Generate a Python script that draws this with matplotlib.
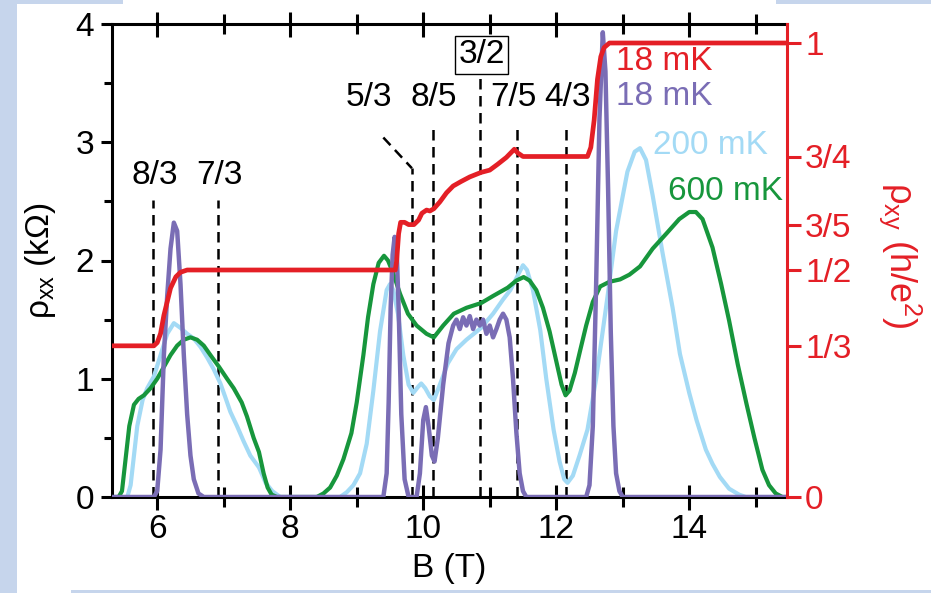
import matplotlib
matplotlib.use("Agg")
import matplotlib.pyplot as plt
from matplotlib.patches import Rectangle
from matplotlib.ticker import MultipleLocator

plt.rcParams['font.family'] = ['Liberation Sans', 'DejaVu Sans']
plt.rcParams['mathtext.default'] = 'regular'

# rho_xx at 18 mK (purple)
b_18 = [5.32, 5.95, 6.0, 6.05, 6.1, 6.15, 6.2, 6.25, 6.3, 6.35, 6.4, 6.45, 6.5, 6.55, 6.62, 6.7,
        9.4, 9.45, 9.48, 9.51, 9.54, 9.57, 9.6, 9.63, 9.67, 9.72, 9.78,
        9.9, 9.95, 10.0, 10.04, 10.08, 10.13, 10.17, 10.22, 10.3, 10.38, 10.45, 10.5, 10.55, 10.6,
        10.65, 10.7, 10.75, 10.8, 10.85, 10.9, 10.95, 11.0, 11.05, 11.1, 11.15, 11.2, 11.25, 11.3,
        11.35, 11.4, 11.45, 11.5, 11.55,
        12.45, 12.5, 12.55, 12.6, 12.65, 12.7, 12.74, 12.78, 12.82, 12.86, 12.9, 12.95, 13.0, 15.47]
rxx_18 = [0, 0, 0.05, 0.4, 1.2, 1.7, 2.1, 2.32, 2.25, 1.8, 1.2, 0.7, 0.35, 0.15, 0.03, 0,
          0, 0.2, 0.8, 1.6, 2.05, 2.2, 2.1, 1.6, 0.7, 0.15, 0,
          0, 0.2, 0.65, 0.76, 0.6, 0.35, 0.3, 0.5, 0.95, 1.3, 1.45, 1.5, 1.42, 1.52,
          1.45, 1.53, 1.42, 1.5, 1.45, 1.5, 1.38, 1.45, 1.35, 1.42, 1.5, 1.55, 1.5, 1.35,
          1.0, 0.55, 0.2, 0.05, 0,
          0, 0.1, 0.6, 1.8, 3.2, 3.93, 3.6, 2.6, 1.4, 0.6, 0.2, 0.05, 0, 0]

# rho_xx at 200 mK (light blue)
b_200 = [5.32, 5.55, 5.6, 5.65, 5.7, 5.78, 5.85, 5.95, 6.05, 6.15, 6.25, 6.35, 6.45, 6.55, 6.65,
         6.75, 6.85, 6.95, 7.02, 7.1, 7.2, 7.3, 7.4, 7.53, 7.63, 7.73, 7.85,
         8.75, 8.85, 8.95, 9.05, 9.15, 9.25, 9.35, 9.45, 9.5, 9.55, 9.62, 9.7, 9.78, 9.85, 9.92,
         9.97, 10.03, 10.1, 10.16, 10.25, 10.37, 10.5, 10.65, 10.87, 11.05, 11.2, 11.31, 11.4,
         11.5, 11.56, 11.65, 11.76, 11.85, 11.96, 12.05, 12.12, 12.17, 12.25, 12.35, 12.47, 12.6,
         12.77, 12.9, 13.07, 13.18, 13.26, 13.35, 13.45, 13.6, 13.75, 13.86, 14.0, 14.11, 14.25,
         14.35, 14.46, 14.6, 14.75, 14.85, 15.47]
rxx_200 = [0, 0, 0.1, 0.35, 0.6, 0.82, 0.92, 1.02, 1.2, 1.38, 1.47, 1.43, 1.38, 1.34, 1.27,
           1.18, 1.08, 0.96, 0.85, 0.72, 0.6, 0.47, 0.35, 0.25, 0.12, 0.05, 0,
           0, 0.04, 0.1, 0.2, 0.45, 0.9, 1.4, 1.75, 1.8, 1.75, 1.55, 1.2, 0.95, 0.88, 0.93,
           0.96, 0.92, 0.85, 0.82, 0.95, 1.13, 1.25, 1.33, 1.43, 1.55, 1.67, 1.75, 1.85,
           1.96, 1.92, 1.75, 1.41, 1.0, 0.57, 0.3, 0.15, 0.12, 0.18, 0.35, 0.57, 1.0,
           1.69, 2.25, 2.75, 2.92, 2.95, 2.85, 2.55, 2.06, 1.6, 1.21, 0.88, 0.65, 0.4,
           0.28, 0.17, 0.07, 0.02, 0, 0]

# rho_xx at 600 mK (green)
b_600 = [5.32, 5.42, 5.47, 5.52, 5.58, 5.65, 5.72, 5.8, 5.9, 6.0, 6.1, 6.2, 6.3, 6.4, 6.5, 6.6,
         6.7, 6.8, 6.93, 7.05, 7.15, 7.27, 7.35, 7.45, 7.53, 7.6, 7.66, 7.72, 7.8,
         8.4, 8.5, 8.6, 8.7, 8.8, 8.92, 9.0, 9.1, 9.17, 9.25, 9.33, 9.41, 9.47, 9.55, 9.65, 9.77,
         9.9, 10.05, 10.16, 10.3, 10.46, 10.65, 10.87, 11.05, 11.27, 11.4, 11.51, 11.6, 11.7,
         11.8, 11.9, 12.0, 12.08, 12.14, 12.2, 12.28, 12.36, 12.45, 12.55, 12.66, 12.8, 12.96,
         13.1, 13.26, 13.45, 13.66, 13.85, 14.0, 14.1, 14.2, 14.35, 14.48, 14.6, 14.73, 14.86,
         14.98, 15.1, 15.2, 15.3, 15.4, 15.47]
rxx_600 = [0, 0, 0.05, 0.3, 0.6, 0.78, 0.83, 0.86, 0.92, 1.0, 1.1, 1.2, 1.28, 1.33, 1.35, 1.33,
           1.28, 1.2, 1.1, 1.0, 0.92, 0.8, 0.68, 0.5, 0.38, 0.2, 0.08, 0.02, 0,
           0, 0.03, 0.08, 0.18, 0.32, 0.54, 0.8, 1.2, 1.52, 1.8, 1.98, 2.04, 2.0, 1.89, 1.72, 1.55,
           1.45, 1.38, 1.35, 1.45, 1.55, 1.6, 1.64, 1.7, 1.77, 1.83, 1.86, 1.83, 1.75,
           1.6, 1.4, 1.15, 0.95, 0.86, 0.9, 1.05, 1.24, 1.45, 1.65, 1.78, 1.82, 1.84,
           1.88, 1.95, 2.1, 2.23, 2.35, 2.41, 2.41, 2.35, 2.11, 1.8, 1.49, 1.12, 0.79,
           0.5, 0.23, 0.1, 0.03, 0, 0]

# rho_xy at 18 mK (red, right axis, h/e^2)
b_xy = [5.32, 5.95, 6.0, 6.05, 6.1, 6.15, 6.2, 6.28, 6.35, 6.45, 9.58, 9.6, 9.63, 9.66, 9.72,
        9.78, 9.86, 9.93, 9.98, 10.05, 10.1, 10.16, 10.25, 10.35, 10.45, 10.57, 10.7, 10.87,
        11.0, 11.12, 11.25, 11.33, 11.37, 11.42, 11.5, 12.47, 12.52, 12.57, 12.62, 12.67,
        12.72, 12.8, 15.47]
rxy = [0.333, 0.333, 0.34, 0.36, 0.4, 0.43, 0.46, 0.485, 0.495, 0.5, 0.5, 0.52, 0.58, 0.605,
       0.605, 0.6, 0.6, 0.61, 0.625, 0.632, 0.63, 0.635, 0.65, 0.67, 0.685, 0.695, 0.705, 0.715,
       0.72, 0.733, 0.748, 0.76, 0.766, 0.758, 0.75, 0.75, 0.77, 0.83, 0.92, 0.97,
       0.99, 1.0, 1.0]

# filling factors marked by dashed lines
nu_labels = ['8/3', '7/3', '5/3', '8/5', '3/2', '7/5', '4/3']
nu_pos = [5.94, 6.92, 9.83, 10.15, 10.86, 11.41, 12.14]
nu_top = [2.51, 2.51, 2.78, 3.15, 3.59, 3.15, 3.15]

rxy_ticks = [0, 1/3, 1/2, 3/5, 3/4, 1]
rxy_ticklabels = ['0', '1/3', '1/2', '3/5', '3/4', '1']

RED = '#e41f26'
PURPLE = '#7a6db5'
LBLUE = '#a3daf5'
GREEN = '#17963c'


def main():
    fig = plt.figure(figsize=(9.31, 5.93), dpi=100)
    fig.patch.set_facecolor('white')

    # slide background strips
    bg = '#c6d5ec'
    W, H = 931.0, 593.0
    for x0, y0, w, h in [(0, 0, 17, 593), (0, 589, 123, 4), (776, 589, 155, 4), (71, 0, 860, 3)]:
        fig.patches.append(Rectangle((x0 / W, y0 / H), w / W, h / H, transform=fig.transFigure,
                                     facecolor=bg, edgecolor='none', zorder=0))

    ax1 = fig.add_axes([112 / W, 1 - 497 / H, 675 / W, 473 / H])
    ax2 = ax1.twinx()

    ax1.plot(b_600, rxx_600, color=GREEN, lw=3.0, zorder=3)
    ax1.plot(b_200, rxx_200, color=LBLUE, lw=3.0, zorder=2)
    ax1.plot(b_18, rxx_18, color=PURPLE, lw=3.2, zorder=4)
    ax2.plot(b_xy, rxy, color=RED, lw=3.4)

    # dashed markers
    for lab, x, top in zip(nu_labels, nu_pos, nu_top):
        ax1.plot([x, x], [0, top], color='black', lw=1.8, dashes=(4.2, 2.6), zorder=1)
    ax1.plot([9.40, 9.83], [3.04, 2.78], color='black', lw=1.8, dashes=(4.2, 2.6), zorder=1)

    fs = 24
    ax1.text(5.97, 2.72, '8/3', fontsize=fs, ha='center', va='center')
    ax1.text(6.94, 2.72, '7/3', fontsize=fs, ha='center', va='center')
    ax1.text(9.18, 3.38, '5/3', fontsize=fs, ha='center', va='center')
    ax1.text(10.16, 3.38, '8/5', fontsize=fs, ha='center', va='center')
    ax1.text(11.36, 3.38, '7/5', fontsize=fs, ha='center', va='center')
    ax1.text(12.17, 3.38, '4/3', fontsize=fs, ha='center', va='center')
    ax1.text(10.88, 3.74, '3/2', fontsize=fs, ha='center', va='center',
             bbox=dict(boxstyle='square,pad=0.1', fc='white', ec='black', lw=1.0))

    ax1.text(12.9, 3.68, '18 mK', fontsize=fs, color=RED, ha='left', va='center')
    ax1.text(12.9, 3.39, '18 mK', fontsize=fs, color=PURPLE, ha='left', va='center')
    ax1.text(13.45, 2.97, '200 mK', fontsize=fs, color=LBLUE, ha='left', va='center')
    ax1.text(13.68, 2.58, '600 mK', fontsize=fs, color=GREEN, ha='left', va='center')

    ax1.set_xlim(5.32, 15.47)
    ax1.set_ylim(0, 4)
    ax2.set_ylim(0, 473 / 454)

    ax1.xaxis.set_major_locator(MultipleLocator(2))
    ax1.xaxis.set_minor_locator(MultipleLocator(1))
    ax1.yaxis.set_major_locator(MultipleLocator(1))
    ax1.yaxis.set_minor_locator(MultipleLocator(0.5))

    for s in ax1.spines.values():
        s.set_linewidth(2.2)
    ax1.spines['right'].set_visible(False)
    for name in ['left', 'top', 'bottom']:
        ax2.spines[name].set_visible(False)
    ax2.spines['right'].set_color(RED)
    ax2.spines['right'].set_linewidth(2.2)

    ax1.tick_params(axis='x', which='major', direction='inout', length=18, width=2.2,
                    labelsize=fs, pad=3, top=True)
    ax1.tick_params(axis='x', which='minor', direction='inout', length=15, width=2.2, top=True)
    ax1.tick_params(axis='y', which='major', direction='out', length=8, width=2.2,
                    labelsize=fs, pad=5)
    ax1.tick_params(axis='y', which='minor', direction='out', length=6, width=2.2)

    ax2.set_yticks(rxy_ticks)
    ax2.set_yticklabels(rxy_ticklabels)
    ax2.tick_params(axis='y', direction='out', length=10, width=2.2, colors=RED,
                    labelsize=fs, pad=3)

    ax1.set_xlabel('B (T)', fontsize=fs, labelpad=6)
    ax1.set_ylabel('ρ$_{xx}$ (kΩ)', fontsize=fs)
    ax1.yaxis.set_label_coords(-0.08, 0.5)
    fig.text(900 / W, 1 - 255 / H, 'ρ$_{xy}$ (h/e$^{2}$)', fontsize=26, color=RED,
             rotation=-90, ha='center', va='center')

    fig.savefig('out.png', dpi=100, facecolor=fig.get_facecolor())


if __name__ == "__main__":
    main()
